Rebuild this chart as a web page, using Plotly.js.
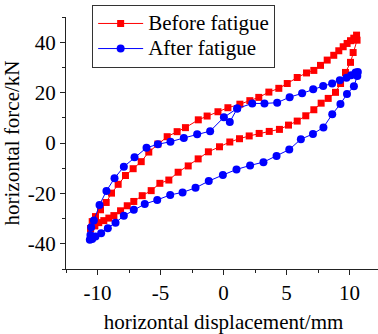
<!DOCTYPE html>
<html>
<head>
<meta charset="utf-8">
<script src="https://cdn.plot.ly/plotly-3.0.1.min.js"></script>
<style>html,body{margin:0;padding:0;overflow:hidden;background:#fff;}#chart{width:381px;height:334px;}</style>
</head>
<body>
<div id="chart"></div>
<script>
// Before fatigue: upper branch (left tip -> right tip), then lower branch (right tip -> left tip)
const beforeX = [-10.55,-10.42,-10.16,-9.76,-9.31,-8.89,-8.36,-7.78,-7.17,-6.53,-5.93,-5.21,-4.47,-3.68,-3.02,-2.0,-1.30,-0.44,0.35,1.30,2.09,2.80,3.60,4.39,5.06,5.85,6.59,7.17,7.70,8.23,8.75,9.15,9.50,9.81,10.08,10.34,10.56,
  10.6,10.29,10.08,9.68,9.29,8.89,8.31,7.75,7.17,6.53,5.85,5.16,4.44,3.63,2.83,2.04,1.27,0.50,-0.32,-1.20,-2.01,-2.80,-3.60,-4.34,-5.05,-5.74,-6.45,-7.12,-7.64,-8.17,-8.70,-9.10,-9.50,-9.90,-10.21,-10.55];
const beforeY = [-34.0,-31.2,-29.2,-26.5,-23.6,-19.9,-16.4,-12.9,-10.2,-7.4,-3.6,-0.4,2.5,4.5,6.1,9.2,10.7,12.4,14.0,15.4,16.8,18.1,20.2,21.7,23.6,26.0,27.8,28.8,30.8,32.9,34.8,36.6,38.2,39.5,40.6,41.6,42.8,
  40.8,35.9,32.0,28.0,23.6,20.1,17.7,15.8,13.2,10.8,8.7,7.1,5.4,4.6,3.8,2.8,1.7,0.4,-1.5,-3.5,-6.3,-9.1,-11.6,-14.7,-16.0,-18.9,-20.9,-23.2,-24.9,-26.9,-28.8,-29.8,-30.8,-31.6,-32.9,-34.0];
// After fatigue: start near origin, upper-right branch, lower branch, upper-left branch
const afterX = [0.50,1.09,2.28,3.25,4.26,5.25,6.24,7.12,7.91,8.62,9.23,9.76,10.13,10.48,10.66,
  10.62,10.35,9.80,9.28,8.63,7.93,7.10,6.14,5.22,4.21,3.17,2.11,1.03,-0.05,-1.17,-2.22,-3.25,-4.23,-5.26,-6.25,-7.12,-7.91,-8.57,-9.18,-9.71,-10.16,-10.42,-10.61,
  -10.56,-10.50,-10.29,-9.84,-9.29,-8.65,-7.91,-7.06,-6.11,-5.21,-4.21,-3.15,-2.09,-1.06,0.03,1.09];
const afterY = [8.3,13.7,15.7,15.7,16.0,18.2,19.7,21.3,22.6,23.6,24.9,25.9,26.9,28.0,28.2,
  26.6,22.5,19.4,15.5,11.4,6.2,3.6,1.5,-2.6,-5.2,-7.6,-8.9,-10.5,-12.7,-15.1,-17.8,-19.6,-20.6,-22.6,-24.2,-26.5,-28.9,-31.6,-33.8,-35.8,-37.1,-38.1,-38.4,
  -36.5,-33.4,-30.8,-24.6,-19.0,-14.0,-9.4,-5.7,-1.9,-0.5,0.5,2.0,3.5,4.7,10.2,13.7];

const seriesNames = ['Before fatigue','After fatigue'];
const xTicks = [-10,-5,0,5,10];
const yTicks = [-40,-20,0,20,40];

const serif = 'Liberation Serif';
const big = s => '<span style="font-size:21px">' + s + '</span>';
const traces = [
  {x: beforeX, y: beforeY, name: big(seriesNames[0]), type:'scatter', mode:'lines+markers',
   line:{color:'#ff0000', width:1}, marker:{symbol:'square', size:7, color:'#ff0000'}},
  {x: afterX, y: afterY, name: big(seriesNames[1]), type:'scatter', mode:'lines+markers',
   line:{color:'#0000ff', width:1}, marker:{symbol:'circle', size:8, color:'#0000ff'}}
];
const axisCommon = {
  showgrid:false, zeroline:false, showline:true, linecolor:'#222', linewidth:1,
  ticks:'outside', ticklen:5, tickcolor:'#222', tickwidth:1,
  tickfont:{family:serif, size:21, color:'#000'}
};
const layout = {
  width:381, height:334,
  margin:{l:66, r:0, t:17, b:65},
  font:{family:serif, size:20, color:'#000'},
  paper_bgcolor:'#fff', plot_bgcolor:'#fff',
  showlegend:true,
  legend:{x:0.083, y:1.048, xanchor:'left', yanchor:'top',
    bordercolor:'#333', borderwidth:1, bgcolor:'#fff',
    font:{family:serif, size:17, color:'#000'}, itemwidth:45, tracegroupgap:0},
  xaxis:Object.assign({}, axisCommon, {
    range:[-12.5,12.5], tickvals:xTicks, ticktext:xTicks.map(String),
    minor:{dtick:2.5, tick0:0, ticks:'outside', ticklen:3, tickcolor:'#222'},
    title:{text:'horizontal displacement/mm', font:{family:serif, size:21, color:'#000'}, standoff:12}
  }),
  yaxis:Object.assign({}, axisCommon, {
    range:[-50,50], tickvals:yTicks, ticktext:yTicks.map(String),
    minor:{dtick:10, tick0:0, ticks:'outside', ticklen:3, tickcolor:'#222'},
    title:{text:'horizontal force/kN', font:{family:serif, size:21, color:'#000'}, standoff:6}
  })
};
Plotly.newPlot('chart', traces, layout, {staticPlot:true, displayModeBar:false});
</script>
</body>
</html>
